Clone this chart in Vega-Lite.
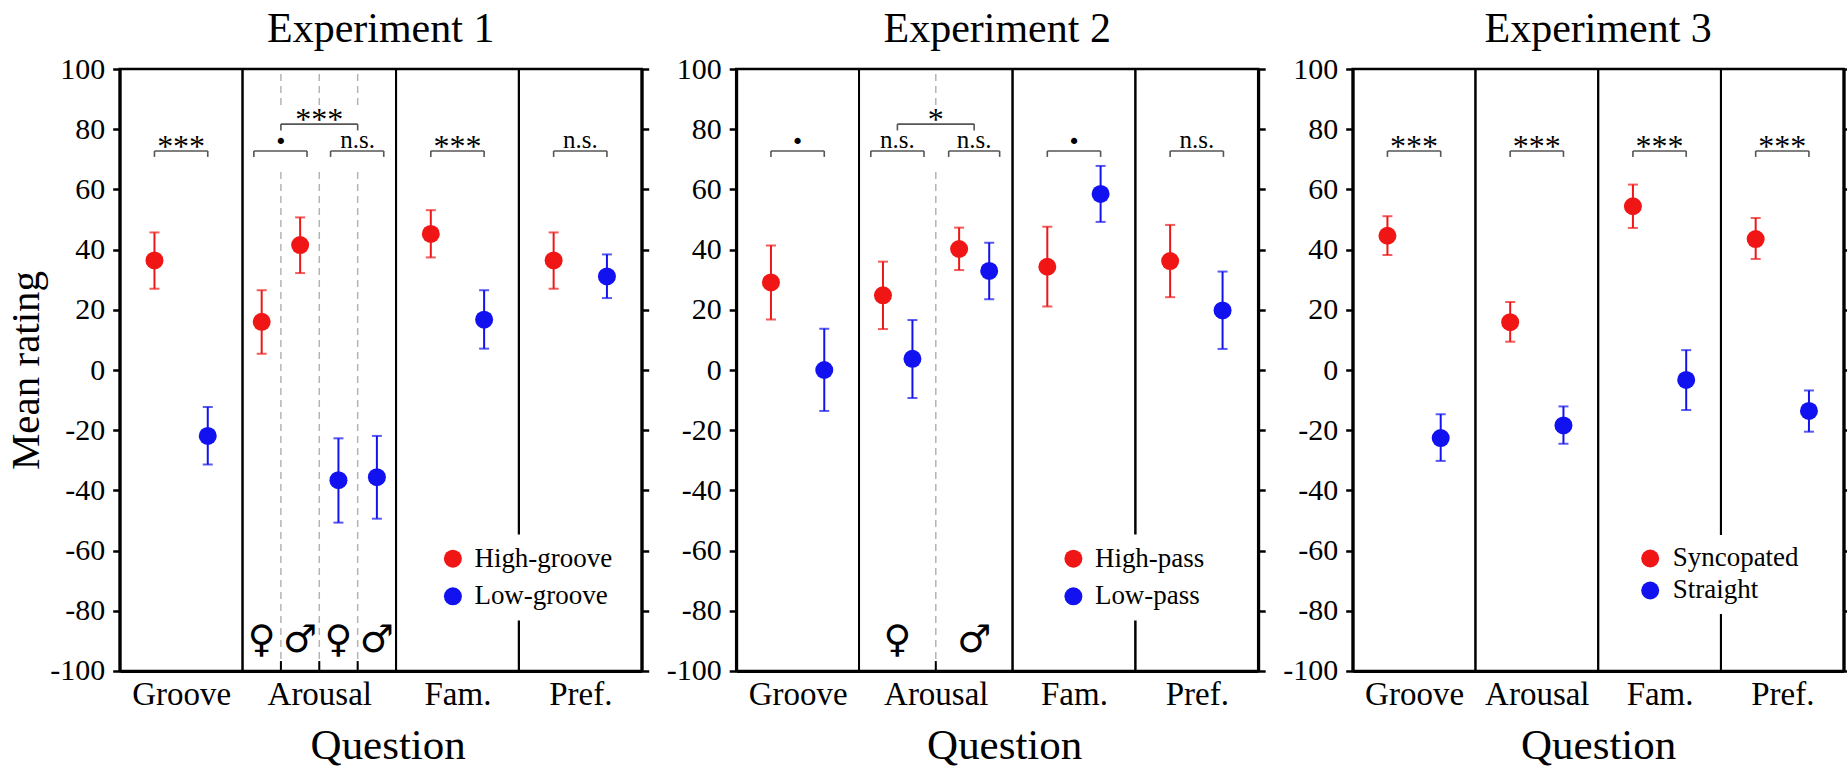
{
  "$schema": "https://vega.github.io/schema/vega-lite/v6.json",
  "background": "white",
  "padding": {"left": 3.7, "top": 6, "right": 0, "bottom": 8},
  "datasets": {
    "chart": [
      {"kind": "point", "exp": 1, "question": "Groove", "cond": "High-groove", "x": 0.283, "mean": 36.4, "lo": 27.0, "hi": 45.7},
      {"kind": "point", "exp": 1, "question": "Groove", "cond": "Low-groove", "x": 0.717, "mean": -21.9, "lo": -31.4, "hi": -12.3},
      {"kind": "point", "exp": 1, "question": "Arousal", "sex": "female", "cond": "High-groove", "x": 1.156, "mean": 16.0, "lo": 5.4, "hi": 26.5},
      {"kind": "point", "exp": 1, "question": "Arousal", "sex": "male", "cond": "High-groove", "x": 1.469, "mean": 41.5, "lo": 32.2, "hi": 50.7},
      {"kind": "point", "exp": 1, "question": "Arousal", "sex": "female", "cond": "Low-groove", "x": 1.781, "mean": -36.6, "lo": -50.7, "hi": -22.7},
      {"kind": "point", "exp": 1, "question": "Arousal", "sex": "male", "cond": "Low-groove", "x": 2.094, "mean": -35.6, "lo": -49.4, "hi": -21.9},
      {"kind": "point", "exp": 1, "question": "Fam.", "cond": "High-groove", "x": 2.533, "mean": 45.2, "lo": 37.4, "hi": 53.1},
      {"kind": "point", "exp": 1, "question": "Fam.", "cond": "Low-groove", "x": 2.967, "mean": 16.7, "lo": 7.1, "hi": 26.5},
      {"kind": "point", "exp": 1, "question": "Pref.", "cond": "High-groove", "x": 3.533, "mean": 36.4, "lo": 27.0, "hi": 45.7},
      {"kind": "point", "exp": 1, "question": "Pref.", "cond": "Low-groove", "x": 3.967, "mean": 31.1, "lo": 23.9, "hi": 38.4},

      {"kind": "point", "exp": 2, "question": "Groove", "cond": "High-pass", "x": 0.283, "mean": 29.1, "lo": 16.8, "hi": 41.4},
      {"kind": "point", "exp": 2, "question": "Groove", "cond": "Low-pass", "x": 0.717, "mean": 0.0, "lo": -13.6, "hi": 13.7},
      {"kind": "point", "exp": 2, "question": "Arousal", "sex": "female", "cond": "High-pass", "x": 1.195, "mean": 24.8, "lo": 13.6, "hi": 36.0},
      {"kind": "point", "exp": 2, "question": "Arousal", "sex": "female", "cond": "Low-pass", "x": 1.435, "mean": 3.7, "lo": -9.3, "hi": 16.6},
      {"kind": "point", "exp": 2, "question": "Arousal", "sex": "male", "cond": "High-pass", "x": 1.815, "mean": 40.2, "lo": 33.2, "hi": 47.3},
      {"kind": "point", "exp": 2, "question": "Arousal", "sex": "male", "cond": "Low-pass", "x": 2.06, "mean": 32.9, "lo": 23.5, "hi": 42.3},
      {"kind": "point", "exp": 2, "question": "Fam.", "cond": "High-pass", "x": 2.533, "mean": 34.3, "lo": 21.1, "hi": 47.6},
      {"kind": "point", "exp": 2, "question": "Fam.", "cond": "Low-pass", "x": 2.967, "mean": 58.5, "lo": 49.2, "hi": 67.8},
      {"kind": "point", "exp": 2, "question": "Pref.", "cond": "High-pass", "x": 3.533, "mean": 36.2, "lo": 24.2, "hi": 48.2},
      {"kind": "point", "exp": 2, "question": "Pref.", "cond": "Low-pass", "x": 3.96, "mean": 19.8, "lo": 7.0, "hi": 32.7},

      {"kind": "point", "exp": 3, "question": "Groove", "cond": "Syncopated", "x": 0.283, "mean": 44.6, "lo": 38.2, "hi": 51.1},
      {"kind": "point", "exp": 3, "question": "Groove", "cond": "Straight", "x": 0.717, "mean": -22.6, "lo": -30.2, "hi": -14.7},
      {"kind": "point", "exp": 3, "question": "Arousal", "cond": "Syncopated", "x": 1.283, "mean": 15.9, "lo": 9.4, "hi": 22.6},
      {"kind": "point", "exp": 3, "question": "Arousal", "cond": "Straight", "x": 1.717, "mean": -18.4, "lo": -24.5, "hi": -12.1},
      {"kind": "point", "exp": 3, "question": "Fam.", "cond": "Syncopated", "x": 2.283, "mean": 54.4, "lo": 47.2, "hi": 61.6},
      {"kind": "point", "exp": 3, "question": "Fam.", "cond": "Straight", "x": 2.717, "mean": -3.3, "lo": -13.3, "hi": 6.6},
      {"kind": "point", "exp": 3, "question": "Pref.", "cond": "Syncopated", "x": 3.283, "mean": 43.5, "lo": 36.9, "hi": 50.5},
      {"kind": "point", "exp": 3, "question": "Pref.", "cond": "Straight", "x": 3.717, "mean": -13.6, "lo": -20.5, "hi": -6.8},

      {"kind": "bracket", "exp": 1, "x1": 0.283, "x2": 0.717, "xc": 0.5, "y": 72.75, "tip": 70.8, "label": "***"},
      {"kind": "bracket", "exp": 1, "x1": 1.092, "x2": 1.525, "xc": 1.3125, "y": 72.75, "tip": 70.8, "label": "·"},
      {"kind": "bracket", "exp": 1, "x1": 1.717, "x2": 2.15, "xc": 1.9375, "y": 72.75, "tip": 70.8, "label": "n.s."},
      {"kind": "bracket", "exp": 1, "x1": 1.3125, "x2": 1.9375, "xc": 1.625, "y": 81.7, "tip": 79.6, "label": "***"},
      {"kind": "bracket", "exp": 1, "x1": 2.533, "x2": 2.967, "xc": 2.75, "y": 72.75, "tip": 70.8, "label": "***"},
      {"kind": "bracket", "exp": 1, "x1": 3.533, "x2": 3.967, "xc": 3.75, "y": 72.75, "tip": 70.8, "label": "n.s."},
      {"kind": "bracket", "exp": 2, "x1": 0.283, "x2": 0.717, "xc": 0.5, "y": 72.75, "tip": 70.8, "label": "·"},
      {"kind": "bracket", "exp": 2, "x1": 1.096, "x2": 1.529, "xc": 1.3125, "y": 72.75, "tip": 70.8, "label": "n.s."},
      {"kind": "bracket", "exp": 2, "x1": 1.73, "x2": 2.145, "xc": 1.9375, "y": 72.75, "tip": 70.8, "label": "n.s."},
      {"kind": "bracket", "exp": 2, "x1": 1.3125, "x2": 1.9375, "xc": 1.625, "y": 81.7, "tip": 79.6, "label": "*"},
      {"kind": "bracket", "exp": 2, "x1": 2.533, "x2": 2.967, "xc": 2.75, "y": 72.75, "tip": 70.8, "label": "·"},
      {"kind": "bracket", "exp": 2, "x1": 3.533, "x2": 3.967, "xc": 3.75, "y": 72.75, "tip": 70.8, "label": "n.s."},
      {"kind": "bracket", "exp": 3, "x1": 0.283, "x2": 0.717, "xc": 0.5, "y": 72.75, "tip": 70.8, "label": "***"},
      {"kind": "bracket", "exp": 3, "x1": 1.283, "x2": 1.717, "xc": 1.5, "y": 72.75, "tip": 70.8, "label": "***"},
      {"kind": "bracket", "exp": 3, "x1": 2.283, "x2": 2.717, "xc": 2.5, "y": 72.75, "tip": 70.8, "label": "***"},
      {"kind": "bracket", "exp": 3, "x1": 3.283, "x2": 3.717, "xc": 3.5, "y": 72.75, "tip": 70.8, "label": "***"},

      {"kind": "divider", "exp": 1, "x": 1},
      {"kind": "divider", "exp": 1, "x": 2.25},
      {"kind": "divider", "exp": 1, "x": 3.25},
      {"kind": "divider", "exp": 2, "x": 1},
      {"kind": "divider", "exp": 2, "x": 2.25},
      {"kind": "divider", "exp": 2, "x": 3.25},
      {"kind": "divider", "exp": 3, "x": 1},
      {"kind": "divider", "exp": 3, "x": 2},
      {"kind": "divider", "exp": 3, "x": 3},

      {"kind": "dash", "exp": 1, "x": 1.3125},
      {"kind": "dash", "exp": 1, "x": 1.625},
      {"kind": "dash", "exp": 1, "x": 1.9375},
      {"kind": "dash", "exp": 2, "x": 1.625},

      {"kind": "sex", "exp": 1, "x": 1.156, "label": "♀"},
      {"kind": "sex", "exp": 1, "x": 1.469, "label": "♂"},
      {"kind": "sex", "exp": 1, "x": 1.781, "label": "♀"},
      {"kind": "sex", "exp": 1, "x": 2.094, "label": "♂"},
      {"kind": "sex", "exp": 2, "x": 1.3125, "label": "♀"},
      {"kind": "sex", "exp": 2, "x": 1.9375, "label": "♂"}
    ]
  },
  "bounds": "flush",
  "spacing": 94.5,
  "resolve": {"scale": {"color": "independent"}, "legend": {"color": "independent"}},
  "hconcat": [
    {
      "width": 522,
      "height": 602,
      "title": "Experiment 1",
      "data": {"name": "chart"},
      "transform": [{"filter": {"field": "exp", "equal": 1}}],
      "resolve": {"axis": {"y": "independent"}, "scale": {"color": "independent"}, "legend": {"color": "independent"}},
      "layer": [
        {
          "transform": [{"filter": {"field": "kind", "equal": "divider"}}],
          "mark": {"type": "rule", "color": "black", "strokeWidth": 2},
          "encoding": {
            "x": {"field": "x", "type": "quantitative", "title": "Question",
              "scale": {"domain": [0, 4.25], "nice": false, "zero": false},
              "axis": {"values": [0.5, 1.625, 2.75, 3.75], "titleX": 268,
                "labelExpr": "datum.value < 1 ? 'Groove' : datum.value < 2.25 ? 'Arousal' : datum.value < 3.25 ? 'Fam.' : 'Pref.'"}},
            "y": {"datum": -100, "type": "quantitative",
              "scale": {"domain": [-100, 100], "nice": false, "zero": false},
              "axis": {"orient": "left", "title": "Mean rating", "values": [-100, -80, -60, -40, -20, 0, 20, 40, 60, 80, 100], "labelExpr": "'' + datum.value"}},
            "y2": {"datum": 100}
          }
        },
        {
          "transform": [{"filter": {"field": "kind", "equal": "divider"}}],
          "mark": {"type": "rule", "color": "black", "strokeWidth": 2},
          "encoding": {
            "x": {"field": "x", "type": "quantitative", "title": "Question"},
            "y": {"datum": -100, "type": "quantitative",
              "axis": {"orient": "right", "title": null, "labels": false, "values": [-100, -80, -60, -40, -20, 0, 20, 40, 60, 80, 100]}},
            "y2": {"datum": 100}
          }
        },
        {
          "transform": [{"filter": {"field": "kind", "equal": "dash"}}],
          "mark": {"type": "rule", "color": "#b4b4b4", "strokeWidth": 1.5, "strokeDash": [7, 5]},
          "encoding": {
            "x": {"field": "x", "type": "quantitative", "title": "Question"},
            "y": {"datum": -100, "type": "quantitative", "axis": null},
            "y2": {"datum": 67}
          }
        },
        {
          "transform": [{"filter": {"field": "kind", "equal": "dash"}}],
          "mark": {"type": "rule", "color": "#b4b4b4", "strokeWidth": 1.5, "strokeDash": [7, 5]},
          "encoding": {
            "x": {"field": "x", "type": "quantitative", "title": "Question"},
            "y": {"datum": 88, "type": "quantitative", "axis": null},
            "y2": {"datum": 100}
          }
        },
        {
          "transform": [{"filter": {"field": "kind", "equal": "dash"}}],
          "mark": {"type": "rule", "color": "black", "strokeWidth": 2},
          "encoding": {
            "x": {"field": "x", "type": "quantitative", "title": "Question"},
            "y": {"datum": -100, "type": "quantitative", "axis": null},
            "y2": {"datum": -96.7}
          }
        },
        {
          "transform": [{"filter": {"field": "kind", "equal": "bracket"}}],
          "mark": {"type": "rule", "color": "#555555", "strokeWidth": 1.6},
          "encoding": {
            "x": {"field": "x1", "type": "quantitative", "title": "Question"},
            "x2": {"field": "x2"},
            "y": {"field": "y", "type": "quantitative", "axis": null}
          }
        },
        {
          "transform": [{"filter": {"field": "kind", "equal": "bracket"}}],
          "mark": {"type": "rule", "color": "#555555", "strokeWidth": 1.6},
          "encoding": {
            "x": {"field": "x1", "type": "quantitative", "title": "Question"},
            "y": {"field": "y", "type": "quantitative", "axis": null},
            "y2": {"field": "tip"}
          }
        },
        {
          "transform": [{"filter": {"field": "kind", "equal": "bracket"}}],
          "mark": {"type": "rule", "color": "#555555", "strokeWidth": 1.6},
          "encoding": {
            "x": {"field": "x2", "type": "quantitative", "title": "Question"},
            "y": {"field": "y", "type": "quantitative", "axis": null},
            "y2": {"field": "tip"}
          }
        },
        {
          "transform": [{"filter": {"field": "kind", "equal": "bracket"}}, {"filter": {"field": "label", "oneOf": ["***", "*"]}}],
          "mark": {"type": "text", "fontSize": 32, "baseline": "alphabetic", "dy": 6, "color": "black"},
          "encoding": {
            "x": {"field": "xc", "type": "quantitative", "title": "Question"},
            "y": {"field": "y", "type": "quantitative", "axis": null},
            "text": {"field": "label"}
          }
        },
        {
          "transform": [{"filter": {"field": "kind", "equal": "bracket"}}, {"filter": {"field": "label", "equal": "n.s."}}],
          "mark": {"type": "text", "fontSize": 25, "baseline": "alphabetic", "dy": -3, "color": "black"},
          "encoding": {
            "x": {"field": "xc", "type": "quantitative", "title": "Question"},
            "y": {"field": "y", "type": "quantitative", "axis": null},
            "text": {"field": "label"}
          }
        },
        {
          "transform": [{"filter": {"field": "kind", "equal": "bracket"}}, {"filter": {"field": "label", "equal": "·"}}],
          "mark": {"type": "text", "fontSize": 38, "fontWeight": "bold", "baseline": "alphabetic", "dy": 3, "color": "black"},
          "encoding": {
            "x": {"field": "xc", "type": "quantitative", "title": "Question"},
            "y": {"field": "y", "type": "quantitative", "axis": null},
            "text": {"field": "label"}
          }
        },
        {
          "transform": [{"filter": {"field": "kind", "equal": "sex"}}],
          "mark": {"type": "text", "font": "DejaVu Sans", "fontSize": 38, "baseline": "middle", "color": "black"},
          "encoding": {
            "x": {"field": "x", "type": "quantitative", "title": "Question"},
            "y": {"datum": -90, "type": "quantitative", "axis": null},
            "text": {"field": "label"}
          }
        },
        {
          "transform": [{"filter": {"field": "kind", "equal": "point"}}],
          "mark": {"type": "point", "filled": true, "shape": "circle", "size": 324, "opacity": 1},
          "encoding": {
            "x": {"field": "x", "type": "quantitative", "title": "Question"},
            "y": {"field": "mean", "type": "quantitative", "axis": null},
            "color": {"field": "cond", "type": "nominal",
              "scale": {"domain": ["High-groove", "Low-groove"], "range": ["#f01616", "#1212f0"]},
              "legend": {"orient": "none", "legendX": 309, "legendY": 465.5, "title": null, "fillColor": "white",
                "padding": 10.7, "rowPadding": 9.6, "labelOffset": 8, "symbolSize": 324, "symbolType": "circle",
                "symbolStrokeWidth": 0, "labelFontSize": 27}}
          }
        },
        {
          "transform": [{"filter": {"field": "kind", "equal": "point"}}],
          "mark": {"type": "rule", "strokeWidth": 2},
          "encoding": {
            "x": {"field": "x", "type": "quantitative", "title": "Question"},
            "y": {"field": "lo", "type": "quantitative", "axis": null},
            "y2": {"field": "hi"},
            "color": {"field": "cond", "type": "nominal", "legend": null,
              "scale": {"domain": ["High-groove", "Low-groove"], "range": ["#f01616", "#1212f0"]}}
          }
        },
        {
          "transform": [{"filter": {"field": "kind", "equal": "point"}}],
          "mark": {"type": "tick", "orient": "horizontal", "size": 10, "thickness": 2},
          "encoding": {
            "x": {"field": "x", "type": "quantitative", "title": "Question"},
            "y": {"field": "lo", "type": "quantitative", "axis": null},
            "color": {"field": "cond", "type": "nominal", "legend": null,
              "scale": {"domain": ["High-groove", "Low-groove"], "range": ["#f01616", "#1212f0"]}}
          }
        },
        {
          "transform": [{"filter": {"field": "kind", "equal": "point"}}],
          "mark": {"type": "tick", "orient": "horizontal", "size": 10, "thickness": 2},
          "encoding": {
            "x": {"field": "x", "type": "quantitative", "title": "Question"},
            "y": {"field": "hi", "type": "quantitative", "axis": null},
            "color": {"field": "cond", "type": "nominal", "legend": null,
              "scale": {"domain": ["High-groove", "Low-groove"], "range": ["#f01616", "#1212f0"]}}
          }
        }
      ]
    },
    {
      "width": 522,
      "height": 602,
      "title": "Experiment 2",
      "data": {"name": "chart"},
      "transform": [{"filter": {"field": "exp", "equal": 2}}],
      "resolve": {"axis": {"y": "independent"}, "scale": {"color": "independent"}, "legend": {"color": "independent"}},
      "layer": [
        {
          "transform": [{"filter": {"field": "kind", "equal": "divider"}}],
          "mark": {"type": "rule", "color": "black", "strokeWidth": 2},
          "encoding": {
            "x": {"field": "x", "type": "quantitative", "title": "Question",
              "scale": {"domain": [0, 4.25], "nice": false, "zero": false},
              "axis": {"values": [0.5, 1.625, 2.75, 3.75], "titleX": 268,
                "labelExpr": "datum.value < 1 ? 'Groove' : datum.value < 2.25 ? 'Arousal' : datum.value < 3.25 ? 'Fam.' : 'Pref.'"}},
            "y": {"datum": -100, "type": "quantitative",
              "scale": {"domain": [-100, 100], "nice": false, "zero": false},
              "axis": {"orient": "left", "title": null, "values": [-100, -80, -60, -40, -20, 0, 20, 40, 60, 80, 100], "labelExpr": "'' + datum.value"}},
            "y2": {"datum": 100}
          }
        },
        {
          "transform": [{"filter": {"field": "kind", "equal": "divider"}}],
          "mark": {"type": "rule", "color": "black", "strokeWidth": 2},
          "encoding": {
            "x": {"field": "x", "type": "quantitative", "title": "Question"},
            "y": {"datum": -100, "type": "quantitative",
              "axis": {"orient": "right", "title": null, "labels": false, "values": [-100, -80, -60, -40, -20, 0, 20, 40, 60, 80, 100]}},
            "y2": {"datum": 100}
          }
        },
        {
          "transform": [{"filter": {"field": "kind", "equal": "dash"}}],
          "mark": {"type": "rule", "color": "#b4b4b4", "strokeWidth": 1.5, "strokeDash": [7, 5]},
          "encoding": {
            "x": {"field": "x", "type": "quantitative", "title": "Question"},
            "y": {"datum": -100, "type": "quantitative", "axis": null},
            "y2": {"datum": 67}
          }
        },
        {
          "transform": [{"filter": {"field": "kind", "equal": "dash"}}],
          "mark": {"type": "rule", "color": "#b4b4b4", "strokeWidth": 1.5, "strokeDash": [7, 5]},
          "encoding": {
            "x": {"field": "x", "type": "quantitative", "title": "Question"},
            "y": {"datum": 88, "type": "quantitative", "axis": null},
            "y2": {"datum": 100}
          }
        },
        {
          "transform": [{"filter": {"field": "kind", "equal": "dash"}}],
          "mark": {"type": "rule", "color": "black", "strokeWidth": 2},
          "encoding": {
            "x": {"field": "x", "type": "quantitative", "title": "Question"},
            "y": {"datum": -100, "type": "quantitative", "axis": null},
            "y2": {"datum": -96.7}
          }
        },
        {
          "transform": [{"filter": {"field": "kind", "equal": "bracket"}}],
          "mark": {"type": "rule", "color": "#555555", "strokeWidth": 1.6},
          "encoding": {
            "x": {"field": "x1", "type": "quantitative", "title": "Question"},
            "x2": {"field": "x2"},
            "y": {"field": "y", "type": "quantitative", "axis": null}
          }
        },
        {
          "transform": [{"filter": {"field": "kind", "equal": "bracket"}}],
          "mark": {"type": "rule", "color": "#555555", "strokeWidth": 1.6},
          "encoding": {
            "x": {"field": "x1", "type": "quantitative", "title": "Question"},
            "y": {"field": "y", "type": "quantitative", "axis": null},
            "y2": {"field": "tip"}
          }
        },
        {
          "transform": [{"filter": {"field": "kind", "equal": "bracket"}}],
          "mark": {"type": "rule", "color": "#555555", "strokeWidth": 1.6},
          "encoding": {
            "x": {"field": "x2", "type": "quantitative", "title": "Question"},
            "y": {"field": "y", "type": "quantitative", "axis": null},
            "y2": {"field": "tip"}
          }
        },
        {
          "transform": [{"filter": {"field": "kind", "equal": "bracket"}}, {"filter": {"field": "label", "oneOf": ["***", "*"]}}],
          "mark": {"type": "text", "fontSize": 32, "baseline": "alphabetic", "dy": 6, "color": "black"},
          "encoding": {
            "x": {"field": "xc", "type": "quantitative", "title": "Question"},
            "y": {"field": "y", "type": "quantitative", "axis": null},
            "text": {"field": "label"}
          }
        },
        {
          "transform": [{"filter": {"field": "kind", "equal": "bracket"}}, {"filter": {"field": "label", "equal": "n.s."}}],
          "mark": {"type": "text", "fontSize": 25, "baseline": "alphabetic", "dy": -3, "color": "black"},
          "encoding": {
            "x": {"field": "xc", "type": "quantitative", "title": "Question"},
            "y": {"field": "y", "type": "quantitative", "axis": null},
            "text": {"field": "label"}
          }
        },
        {
          "transform": [{"filter": {"field": "kind", "equal": "bracket"}}, {"filter": {"field": "label", "equal": "·"}}],
          "mark": {"type": "text", "fontSize": 38, "fontWeight": "bold", "baseline": "alphabetic", "dy": 3, "color": "black"},
          "encoding": {
            "x": {"field": "xc", "type": "quantitative", "title": "Question"},
            "y": {"field": "y", "type": "quantitative", "axis": null},
            "text": {"field": "label"}
          }
        },
        {
          "transform": [{"filter": {"field": "kind", "equal": "sex"}}],
          "mark": {"type": "text", "font": "DejaVu Sans", "fontSize": 38, "baseline": "middle", "color": "black"},
          "encoding": {
            "x": {"field": "x", "type": "quantitative", "title": "Question"},
            "y": {"datum": -90, "type": "quantitative", "axis": null},
            "text": {"field": "label"}
          }
        },
        {
          "transform": [{"filter": {"field": "kind", "equal": "point"}}],
          "mark": {"type": "point", "filled": true, "shape": "circle", "size": 324, "opacity": 1},
          "encoding": {
            "x": {"field": "x", "type": "quantitative", "title": "Question"},
            "y": {"field": "mean", "type": "quantitative", "axis": null},
            "color": {"field": "cond", "type": "nominal",
              "scale": {"domain": ["High-pass", "Low-pass"], "range": ["#f01616", "#1212f0"]},
              "legend": {"orient": "none", "legendX": 313, "legendY": 465.5, "title": null, "fillColor": "white",
                "padding": 10.7, "rowPadding": 9.6, "labelOffset": 8, "symbolSize": 324, "symbolType": "circle",
                "symbolStrokeWidth": 0, "labelFontSize": 27}}
          }
        },
        {
          "transform": [{"filter": {"field": "kind", "equal": "point"}}],
          "mark": {"type": "rule", "strokeWidth": 2},
          "encoding": {
            "x": {"field": "x", "type": "quantitative", "title": "Question"},
            "y": {"field": "lo", "type": "quantitative", "axis": null},
            "y2": {"field": "hi"},
            "color": {"field": "cond", "type": "nominal", "legend": null,
              "scale": {"domain": ["High-pass", "Low-pass"], "range": ["#f01616", "#1212f0"]}}
          }
        },
        {
          "transform": [{"filter": {"field": "kind", "equal": "point"}}],
          "mark": {"type": "tick", "orient": "horizontal", "size": 10, "thickness": 2},
          "encoding": {
            "x": {"field": "x", "type": "quantitative", "title": "Question"},
            "y": {"field": "lo", "type": "quantitative", "axis": null},
            "color": {"field": "cond", "type": "nominal", "legend": null,
              "scale": {"domain": ["High-pass", "Low-pass"], "range": ["#f01616", "#1212f0"]}}
          }
        },
        {
          "transform": [{"filter": {"field": "kind", "equal": "point"}}],
          "mark": {"type": "tick", "orient": "horizontal", "size": 10, "thickness": 2},
          "encoding": {
            "x": {"field": "x", "type": "quantitative", "title": "Question"},
            "y": {"field": "hi", "type": "quantitative", "axis": null},
            "color": {"field": "cond", "type": "nominal", "legend": null,
              "scale": {"domain": ["High-pass", "Low-pass"], "range": ["#f01616", "#1212f0"]}}
          }
        }
      ]
    },
    {
      "width": 491,
      "height": 602,
      "title": "Experiment 3",
      "data": {"name": "chart"},
      "transform": [{"filter": {"field": "exp", "equal": 3}}],
      "resolve": {"axis": {"y": "independent"}, "scale": {"color": "independent"}, "legend": {"color": "independent"}},
      "layer": [
        {
          "transform": [{"filter": {"field": "kind", "equal": "divider"}}],
          "mark": {"type": "rule", "color": "black", "strokeWidth": 2},
          "encoding": {
            "x": {"field": "x", "type": "quantitative", "title": "Question",
              "scale": {"domain": [0, 4], "nice": false, "zero": false},
              "axis": {"values": [0.5, 1.5, 2.5, 3.5],
                "labelExpr": "datum.value < 1 ? 'Groove' : datum.value < 2 ? 'Arousal' : datum.value < 3 ? 'Fam.' : 'Pref.'"}},
            "y": {"datum": -100, "type": "quantitative",
              "scale": {"domain": [-100, 100], "nice": false, "zero": false},
              "axis": {"orient": "left", "title": null, "values": [-100, -80, -60, -40, -20, 0, 20, 40, 60, 80, 100], "labelExpr": "'' + datum.value"}},
            "y2": {"datum": 100}
          }
        },
        {
          "transform": [{"filter": {"field": "kind", "equal": "divider"}}],
          "mark": {"type": "rule", "color": "black", "strokeWidth": 2},
          "encoding": {
            "x": {"field": "x", "type": "quantitative", "title": "Question"},
            "y": {"datum": -100, "type": "quantitative",
              "axis": {"orient": "right", "title": null, "labels": false, "values": [-100, -80, -60, -40, -20, 0, 20, 40, 60, 80, 100]}},
            "y2": {"datum": 100}
          }
        },
        {
          "transform": [{"filter": {"field": "kind", "equal": "bracket"}}],
          "mark": {"type": "rule", "color": "#555555", "strokeWidth": 1.6},
          "encoding": {
            "x": {"field": "x1", "type": "quantitative", "title": "Question"},
            "x2": {"field": "x2"},
            "y": {"field": "y", "type": "quantitative", "axis": null}
          }
        },
        {
          "transform": [{"filter": {"field": "kind", "equal": "bracket"}}],
          "mark": {"type": "rule", "color": "#555555", "strokeWidth": 1.6},
          "encoding": {
            "x": {"field": "x1", "type": "quantitative", "title": "Question"},
            "y": {"field": "y", "type": "quantitative", "axis": null},
            "y2": {"field": "tip"}
          }
        },
        {
          "transform": [{"filter": {"field": "kind", "equal": "bracket"}}],
          "mark": {"type": "rule", "color": "#555555", "strokeWidth": 1.6},
          "encoding": {
            "x": {"field": "x2", "type": "quantitative", "title": "Question"},
            "y": {"field": "y", "type": "quantitative", "axis": null},
            "y2": {"field": "tip"}
          }
        },
        {
          "transform": [{"filter": {"field": "kind", "equal": "bracket"}}],
          "mark": {"type": "text", "fontSize": 32, "baseline": "alphabetic", "dy": 6, "color": "black"},
          "encoding": {
            "x": {"field": "xc", "type": "quantitative", "title": "Question"},
            "y": {"field": "y", "type": "quantitative", "axis": null},
            "text": {"field": "label"}
          }
        },
        {
          "transform": [{"filter": {"field": "kind", "equal": "point"}}],
          "mark": {"type": "point", "filled": true, "shape": "circle", "size": 324, "opacity": 1},
          "encoding": {
            "x": {"field": "x", "type": "quantitative", "title": "Question"},
            "y": {"field": "mean", "type": "quantitative", "axis": null},
            "color": {"field": "cond", "type": "nominal",
              "scale": {"domain": ["Syncopated", "Straight"], "range": ["#f01616", "#1212f0"]},
              "legend": {"orient": "none", "legendX": 274, "legendY": 466, "title": null, "fillColor": "white",
                "padding": 10, "rowPadding": 4, "labelOffset": 9, "symbolSize": 324, "symbolType": "circle",
                "symbolStrokeWidth": 0, "labelFontSize": 27}}
          }
        },
        {
          "transform": [{"filter": {"field": "kind", "equal": "point"}}],
          "mark": {"type": "rule", "strokeWidth": 2},
          "encoding": {
            "x": {"field": "x", "type": "quantitative", "title": "Question"},
            "y": {"field": "lo", "type": "quantitative", "axis": null},
            "y2": {"field": "hi"},
            "color": {"field": "cond", "type": "nominal", "legend": null,
              "scale": {"domain": ["Syncopated", "Straight"], "range": ["#f01616", "#1212f0"]}}
          }
        },
        {
          "transform": [{"filter": {"field": "kind", "equal": "point"}}],
          "mark": {"type": "tick", "orient": "horizontal", "size": 10, "thickness": 2},
          "encoding": {
            "x": {"field": "x", "type": "quantitative", "title": "Question"},
            "y": {"field": "lo", "type": "quantitative", "axis": null},
            "color": {"field": "cond", "type": "nominal", "legend": null,
              "scale": {"domain": ["Syncopated", "Straight"], "range": ["#f01616", "#1212f0"]}}
          }
        },
        {
          "transform": [{"filter": {"field": "kind", "equal": "point"}}],
          "mark": {"type": "tick", "orient": "horizontal", "size": 10, "thickness": 2},
          "encoding": {
            "x": {"field": "x", "type": "quantitative", "title": "Question"},
            "y": {"field": "hi", "type": "quantitative", "axis": null},
            "color": {"field": "cond", "type": "nominal", "legend": null,
              "scale": {"domain": ["Syncopated", "Straight"], "range": ["#f01616", "#1212f0"]}}
          }
        }
      ]
    }
  ],
  "config": {
    "font": "Liberation Serif",
    "view": {"stroke": "black", "strokeWidth": 2.5},
    "title": {"fontSize": 42, "fontWeight": "normal", "color": "black", "anchor": "middle", "offset": 3},
    "axis": {
      "grid": false,
      "labelColor": "black",
      "titleColor": "black",
      "tickColor": "black",
      "domainColor": "black",
      "domainWidth": 3,
      "tickWidth": 2.5,
      "tickSize": 7,
      "labelFontSize": 30,
      "labelPadding": 8,
      "titleFontSize": 41,
      "titleFontWeight": "normal",
      "titlePadding": 2,
      "labelFlush": false,
      "labelOverlap": false,
      "labelBound": false
    },
    "axisX": {"labelFontSize": 33, "ticks": false, "tickSize": 0, "labelPadding": 8, "titlePadding": 13, "titleFontSize": 43},
    "legend": {"labelColor": "black", "labelFontSize": 27, "strokeColor": null}
  }
}
